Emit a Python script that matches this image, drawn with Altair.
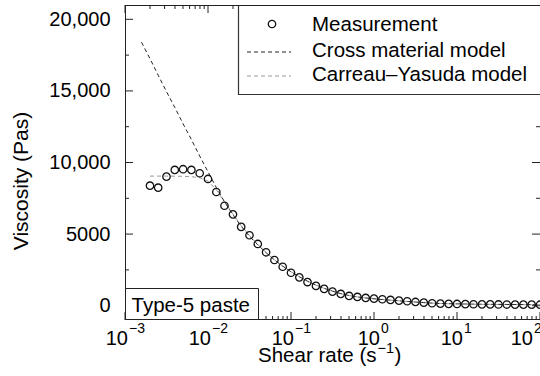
import altair as alt
import pandas as pd

FONT = "Liberation Sans"
W, H = 415, 315  # plot area in px

# Measured flow curve (10 points per decade)
shear_rate = [0.002, 0.00251, 0.00316, 0.00398, 0.00501, 0.00631, 0.00794,
              0.01, 0.0126, 0.0158, 0.02, 0.0251, 0.0316, 0.0398, 0.0501, 0.0631, 0.0794,
              0.1, 0.126, 0.158, 0.2, 0.251, 0.316, 0.398, 0.501, 0.631, 0.794,
              1, 1.26, 1.58, 2, 2.51, 3.16, 3.98, 5.01, 6.31, 7.94,
              10, 12.6, 15.8, 20, 25.1, 31.6, 39.8, 50.1, 63.1, 79.4, 100]
viscosity = [8380, 8240, 9010, 9480, 9530, 9480, 9250,
             8850, 7940, 6980, 6380, 5500, 4920, 4310, 3730, 3190, 2720,
             2300, 1980, 1650, 1380, 1170, 980, 820, 680, 610, 540,
             490, 450, 400, 350, 310, 260, 210, 170, 140, 130,
             120, 110, 100, 95, 90, 85, 80, 76, 72, 70, 68]

# Cross material model fit
cross_rate = [0.00158] + shear_rate
cross_viscosity = [18400, 17250, 16100, 14950, 13850, 12700, 11600, 10450,
                   9350, 8250, 7250, 6350, 5550, 4850, 4250, 3700, 3200,
                   2760, 2370, 2020, 1710, 1440, 1210, 1020, 840, 710, 610,
                   540, 480, 430, 385, 340, 295, 255, 215, 180, 155,
                   140, 128, 118, 110, 102, 96, 90, 85, 80, 76, 72, 68]

# Carreau–Yasuda model fit
cy_rate = shear_rate
cy_viscosity = [9050, 9050, 9050, 9045, 9035, 9010, 8930,
                8700, 8100, 7250, 6400, 5600, 4900, 4280, 3720, 3210, 2760,
                2370, 2020, 1710, 1440, 1210, 1020, 840, 710, 610, 540,
                480, 430, 385, 340, 295, 255, 215, 180, 155, 135,
                120, 110, 102, 96, 90, 85, 80, 76, 72, 70, 68]

legend_labels = ["Measurement", "Cross material model", "Carreau–Yasuda model"]
panel_label = "Type-5 paste"

decades = [0.001, 0.01, 0.1, 1, 10, 100]
decade_exponents = ["−3", "−2", "−1", "0", "1", "2"]
minor_x = [m * d for d in decades[:-1] for m in range(2, 10)]
major_y = [0, 5000, 10000, 15000, 20000]
minor_y = [2500, 7500, 12500, 17500]

xs = alt.Scale(type="log", domain=[1e-3, 1e2], nice=False)
ys = alt.Scale(domain=[-1000, 21000], nice=False, zero=False)
y_axis = alt.Axis(values=major_y, ticks=False, tickSize=0, domain=False, grid=False,
                  title=None, labelFont=FONT, labelFontSize=20, labelColor="black",
                  labelPadding=15,
                  labelExpr="datum.value >= 10000 ? format(datum.value, ',') : format(datum.value, 'd')")

meas = pd.DataFrame({"rate": shear_rate, "eta": viscosity})
cross = pd.DataFrame({"rate": cross_rate, "eta": cross_viscosity})
cy = pd.DataFrame({"rate": cy_rate, "eta": cy_viscosity})
one = pd.DataFrame({"k": [0]})

X = lambda f: alt.X(f, scale=xs, axis=None)
Y = lambda f: alt.Y(f, scale=ys, axis=y_axis)

# inward ticks on all four sides
def xticks(vals, length):
    df = pd.DataFrame({"v": vals})
    bottom = alt.Chart(df).mark_rule(color="#222", strokeWidth=1).encode(
        x=X("v:Q"), y=alt.value(H), y2=alt.value(H - length))
    top = alt.Chart(df).mark_rule(color="#222", strokeWidth=1).encode(
        x=X("v:Q"), y=alt.value(0), y2=alt.value(length))
    return [bottom, top]

def yticks(vals, length):
    df = pd.DataFrame({"v": vals})
    left = alt.Chart(df).mark_rule(color="#222", strokeWidth=1).encode(
        y=Y("v:Q"), x=alt.value(0), x2=alt.value(length))
    right = alt.Chart(df).mark_rule(color="#222", strokeWidth=1).encode(
        y=Y("v:Q"), x=alt.value(W), x2=alt.value(W - length))
    return [left, right]

ticks = xticks(decades, 8) + xticks(minor_x, 4) + yticks(major_y, 8) + yticks(minor_y, 4)

cross_line = alt.Chart(cross).mark_line(color="#222", strokeWidth=1, strokeDash=[4, 3]).encode(
    x=X("rate:Q"), y=Y("eta:Q"))
cy_line = alt.Chart(cy).mark_line(color="#999", strokeWidth=1, strokeDash=[4, 3]).encode(
    x=X("rate:Q"), y=Y("eta:Q"))
points = alt.Chart(meas).mark_point(shape="circle", filled=False, size=55, color="#111",
                                     strokeWidth=1.3, opacity=1).encode(
    x=X("rate:Q"), y=Y("eta:Q"))

# legend box
legend_box = alt.Chart(one).mark_rect(fill="white", stroke="#333", strokeWidth=1.2).encode(
    x=alt.value(113.5), x2=alt.value(W + 10), y=alt.value(0.5), y2=alt.value(89.5))
leg_pt = alt.Chart(one).mark_point(shape="circle", filled=False, size=55, color="#111",
                                   strokeWidth=1.3, opacity=1).encode(
    x=alt.value(147), y=alt.value(19))
leg_cross = alt.Chart(one).mark_rule(color="#222", strokeWidth=1, strokeDash=[4, 3]).encode(
    x=alt.value(122), x2=alt.value(166), y=alt.value(47))
leg_cy = alt.Chart(one).mark_rule(color="#999", strokeWidth=1, strokeDash=[4, 3]).encode(
    x=alt.value(122), x2=alt.value(166), y=alt.value(71))
leg_text = [
    alt.Chart(one).mark_text(align="left", baseline="alphabetic", font=FONT, fontSize=20.5,
                             color="black").encode(
        x=alt.value(187), y=alt.value(yy), text=alt.value(lbl))
    for lbl, yy in zip(legend_labels, [25.7, 51.7, 76.4])
]

# panel label box
panel_box = alt.Chart(one).mark_rect(fill="white", stroke="#222", strokeWidth=1).encode(
    x=alt.value(0.5), x2=alt.value(133.5), y=alt.value(283.5), y2=alt.value(H - 0.5))
panel_text = alt.Chart(one).mark_text(align="left", baseline="alphabetic", font=FONT,
                                      fontSize=20.5, color="black").encode(
    x=alt.value(6.5), y=alt.value(306.5), text=alt.value(panel_label))

# frame (left, top, bottom)
frame = [
    alt.Chart(one).mark_rule(color="#222", strokeWidth=1).encode(
        x=alt.value(0.5), y=alt.value(0), y2=alt.value(H)),
    alt.Chart(one).mark_rule(color="#222", strokeWidth=1).encode(
        x=alt.value(0), x2=alt.value(W), y=alt.value(0.5)),
    alt.Chart(one).mark_rule(color="#222", strokeWidth=1).encode(
        x=alt.value(0), x2=alt.value(W), y=alt.value(H - 0.5)),
]

# x tick labels: "10" with superscript exponent, each label centred on its tick
lab = pd.DataFrame({"v": decades, "e": decade_exponents})

def decade_labels(df, shift):
    base = alt.Chart(df).mark_text(align="right", baseline="alphabetic", font=FONT,
                                   fontSize=20, color="black", dx=shift).encode(
        x=X("v:Q"), y=alt.value(340), text=alt.value("10"))
    exp = alt.Chart(df).mark_text(align="left", baseline="alphabetic", font=FONT,
                                  fontSize=14, color="black", dx=shift + 1).encode(
        x=X("v:Q"), y=alt.value(328), text="e:N")
    return [base, exp]

x_labels = (decade_labels(lab.iloc[:3], 3) + decade_labels(lab.iloc[3:5], 6)
            + decade_labels(lab.iloc[5:], -7))

# axis titles
x_title = [
    alt.Chart(one).mark_text(align="left", baseline="alphabetic", font=FONT, fontSize=20.5,
                             color="black").encode(
        x=alt.value(133), y=alt.value(357), text=alt.value("Shear rate (s")),
    alt.Chart(one).mark_text(align="left", baseline="alphabetic", font=FONT, fontSize=14.5,
                             color="black").encode(
        x=alt.value(252.5), y=alt.value(347.5), text=alt.value("−1")),
    alt.Chart(one).mark_text(align="left", baseline="alphabetic", font=FONT, fontSize=20.5,
                             color="black").encode(
        x=alt.value(269.5), y=alt.value(357), text=alt.value(")")),
]
y_title = alt.Chart(one).mark_text(align="center", baseline="middle", font=FONT, fontSize=21,
                                   color="black", angle=270).encode(
    x=alt.value(-103), y=alt.value(176), text=alt.value("Viscosity (Pas)"))

layers = (ticks + [cy_line, cross_line, points, legend_box, leg_pt, leg_cross, leg_cy]
          + leg_text + [panel_box, panel_text] + frame + x_labels + x_title + [y_title])

chart = alt.layer(*layers).properties(
    width=W, height=H,
    padding={"left": 125, "top": 5, "right": 0, "bottom": 56},
    autosize=alt.AutoSizeParams(type="none"),
    background="white",
).configure_view(stroke=None)

chart.save("out.html", embed_options={"renderer": "svg", "actions": False})
